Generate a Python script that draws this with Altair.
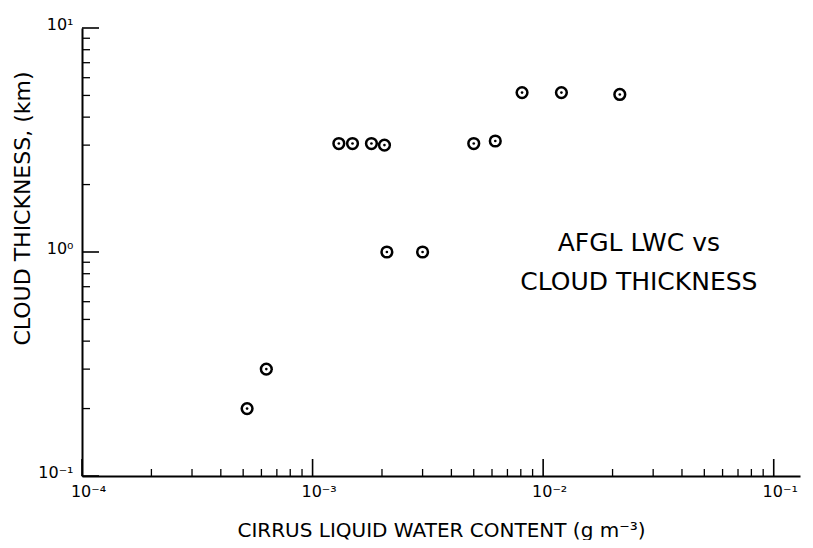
import altair as alt
import pandas as pd

# ---- data ----
lwc = [5.2e-4, 6.3e-4, 1.30e-3, 1.49e-3, 1.80e-3, 2.05e-3, 2.10e-3, 3.0e-3,
       5.0e-3, 6.2e-3, 8.1e-3, 1.20e-2, 2.15e-2]
thickness = [0.20, 0.30, 3.05, 3.05, 3.05, 3.0, 1.0, 1.0,
             3.05, 3.13, 5.15, 5.15, 5.05]

x_major = [1e-4, 1e-3, 1e-2, 1e-1]
x_major_labels = ["10⁻⁴", "10⁻³", "10⁻²", "10⁻¹"]
y_major = [0.1, 1.0, 10.0]
y_major_labels = ["10⁻¹", "10⁰", "10¹"]
minor_mult = [2, 3, 4, 5, 6, 7, 8, 9]

x_minor = [m * d for d in [1e-4, 1e-3, 1e-2] for m in minor_mult]
y_minor = [m * d for d in [0.1, 1.0] for m in minor_mult]

note_lines = ["AFGL LWC vs", "CLOUD THICKNESS"]
note_x = [0.0260, 0.0260]
note_y = [1.097, 0.734]

x_title = "CIRRUS LIQUID WATER CONTENT (g  m⁻³)"
y_title = "CLOUD THICKNESS, (km)"

W, H = 718, 448
FONT = "DejaVu Sans"


def label_expr(values, labels):
    expr = "''"
    for v, lab in reversed(list(zip(values, labels))):
        expr = f"(abs(log(datum.value) - log({v})) < 0.01 ? '{lab}' : {expr})"
    return expr


xs = alt.Scale(type="log", domain=[1e-4, 0.13], nice=False)
ys = alt.Scale(type="log", domain=[0.1, 10], nice=False)

xaxis = alt.Axis(values=x_major, labelExpr=label_expr(x_major, x_major_labels),
                 title=x_title, labelAlign="center", labelOffset=6, labelPadding=7,
                 labelBaseline="top", titleY=54, titleBaseline="middle",
                 titleFontSize=20)
yaxis = alt.Axis(values=y_major, labelExpr=label_expr(y_major, y_major_labels),
                 title=y_title, labelAlign="right", labelBaseline="middle",
                 labelOffset=-4, labelPadding=9, titleX=-60, titleY=180,
                 titleBaseline="middle", titleAngle=270, titleFontSize=22)


def X(field):
    return alt.X(field, scale=xs, axis=xaxis)


def Y(field):
    return alt.Y(field, scale=ys, axis=yaxis)


pts = pd.DataFrame({"lwc": lwc, "thick": thickness})
base = alt.Chart(pts)

circles = base.mark_point(shape="circle", filled=False, size=115, strokeWidth=2.5,
                          color="black", opacity=1).encode(x=X("lwc:Q"), y=Y("thick:Q"))
dots = base.mark_point(shape="circle", filled=True, size=7, color="black",
                       opacity=1).encode(x=X("lwc:Q"), y=Y("thick:Q"))

xmaj = alt.Chart(pd.DataFrame({"v": x_major})).mark_rule(color="black", strokeWidth=1.6).encode(
    x=X("v:Q"), y=alt.value(H), y2=alt.value(H - 17))
xmin = alt.Chart(pd.DataFrame({"v": x_minor})).mark_rule(color="black", strokeWidth=1.3).encode(
    x=X("v:Q"), y=alt.value(H), y2=alt.value(H - 7))
ymaj = alt.Chart(pd.DataFrame({"v": y_major})).mark_rule(color="black", strokeWidth=1.6).encode(
    y=Y("v:Q"), x=alt.value(0), x2=alt.value(17))
ymin = alt.Chart(pd.DataFrame({"v": y_minor})).mark_rule(color="black", strokeWidth=1.3).encode(
    y=Y("v:Q"), x=alt.value(0), x2=alt.value(8))

note = alt.Chart(pd.DataFrame({"x": note_x, "y": note_y, "t": note_lines})).mark_text(
    font=FONT, fontSize=25, color="black", align="center", baseline="middle").encode(
    x=X("x:Q"), y=Y("y:Q"), text="t:N")

chart = alt.layer(circles, dots, xmaj, xmin, ymaj, ymin, note).properties(
    width=W, height=H,
    padding={"left": 74, "top": 20, "right": 5, "bottom": 64},
    autosize=alt.AutoSizeParams(type="none"),
    background="white",
).configure_axis(
    domainColor="black", domainWidth=2, ticks=False, grid=False,
    labelFont=FONT, labelFontSize=16, labelColor="black",
    titleFont=FONT, titleFontWeight="normal", titleColor="black",
).configure_view(strokeWidth=0)

chart.save("out.html", embed_options={"renderer": "svg", "actions": False})
